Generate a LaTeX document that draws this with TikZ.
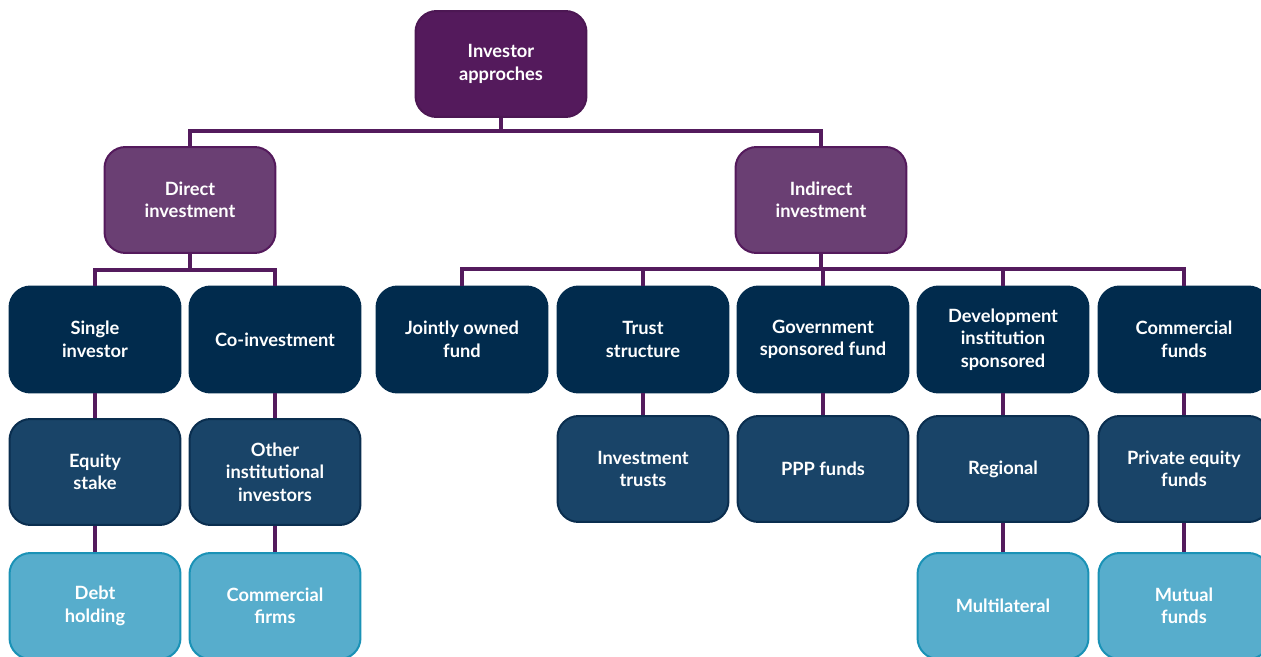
\documentclass[tikz,border=0pt]{standalone}
\usepackage{fontspec}
\setmainfont{Lato}
\definecolor{toppurple}{HTML}{541A5C}
\definecolor{midpurple}{HTML}{6A3F73}
\definecolor{navy}{HTML}{012B4D}
\definecolor{midblue}{HTML}{194468}
\definecolor{midblueline}{HTML}{0A2E4F}
\definecolor{lightblue}{HTML}{57ADCC}
\definecolor{lightblueline}{HTML}{1A92B6}
\definecolor{linkpurple}{HTML}{541B5D}
\begin{document}
\begin{tikzpicture}[x=0.02cm,y=-0.02cm]
\tikzset{
  box/.style={rounded corners=0.42cm, minimum width=3.42cm, minimum height=2.12cm,
    align=center, text=white, inner sep=0pt, line width=0.04cm,
    font=\bfseries\fontsize{10.4}{12.8}\selectfont},
  rootbox/.style={box, fill=toppurple, draw=toppurple!90!black},
  lvlone/.style={box, fill=midpurple, draw=toppurple},
  lvltwo/.style={box, fill=navy, draw=navy},
  lvlthree/.style={box, fill=midblue, draw=midblueline},
  lvlfour/.style={box, fill=lightblue, draw=lightblueline},
  link/.style={draw=linkpurple, line width=0.075cm}
}
\useasboundingbox (0,0) rectangle (1261,656);
\clip (0,0) rectangle (1261,656);

\coordinate (bartop) at (0,131);
\coordinate (bardir) at (0,270);
\coordinate (barind) at (0,269);

\node[rootbox] (top) at (501,64) {Investor\\approches};
\node[lvlone] (direct) at (190,200) {Direct\\investment};
\node[lvlone] (indirect) at (821,200) {Indirect\\investment};

\node[lvltwo] (single) at (95,339.5) {Single\\investor};
\node[lvltwo] (coinv) at (275,339.5) {Co-investment};
\node[lvltwo] (joint) at (462,339.5) {Jointly owned\\fund};
\node[lvltwo] (trust) at (643,339.5) {Trust\\structure};
\node[lvltwo] (gov) at (823,339.5) {Government\\sponsored fund};
\node[lvltwo] (dev) at (1003,339.5) {Development\\institution\\sponsored};
\node[lvltwo] (comm) at (1184,339.5) {Commercial\\funds};

\node[lvlthree] (equity) at (95,472) {Equity\\stake};
\node[lvlthree] (other) at (275,472) {Other\\institutional\\investors};
\node[lvlthree] (invtrust) at (643,469) {Investment\\trusts};
\node[lvlthree] (ppp) at (823,469) {PPP funds};
\node[lvlthree] (regional) at (1003,469) {Regional};
\node[lvlthree] (pe) at (1184,469) {Private equity\\funds};

\node[lvlfour] (debt) at (95,606) {Debt\\holding};
\node[lvlfour] (commfirms) at (275,606) {Commercial\\firms};
\node[lvlfour] (multi) at (1003,606) {Multilateral};
\node[lvlfour] (mutual) at (1184,606) {Mutual\\funds};

\draw[link] (top.south) -- (top.south |- bartop) -| (direct.north);
\draw[link] (top.south |- bartop) -| (indirect.north);

\draw[link] (direct.south) -- (direct.south |- bardir) -| (single.north);
\draw[link] (direct.south |- bardir) -| (coinv.north);

\draw[link] (indirect.south) -- (indirect.south |- barind) -| (joint.north);
\draw[link] (indirect.south |- barind) -| (trust.north);
\draw[link] (indirect.south |- barind) -| (gov.north);
\draw[link] (indirect.south |- barind) -| (dev.north);
\draw[link] (indirect.south |- barind) -| (comm.north);

\draw[link] (single) -- (equity);
\draw[link] (coinv) -- (other);
\draw[link] (trust) -- (invtrust);
\draw[link] (gov) -- (ppp);
\draw[link] (dev) -- (regional);
\draw[link] (comm) -- (pe);

\draw[link] (equity) -- (debt);
\draw[link] (other) -- (commfirms);
\draw[link] (regional) -- (multi);
\draw[link] (pe) -- (mutual);
\end{tikzpicture}
\end{document}
